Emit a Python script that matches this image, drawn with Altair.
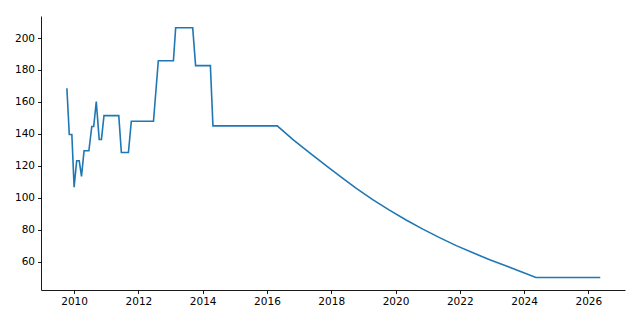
import altair as alt
import pandas as pd

years = [2009.775, 2009.85, 2009.93, 2010.0, 2010.08, 2010.16, 2010.23, 2010.31,
         2010.46, 2010.55, 2010.61, 2010.69, 2010.78, 2010.85, 2010.93,
         2011.39, 2011.47, 2011.69, 2011.78, 2012.47, 2012.62, 2013.09, 2013.16,
         2013.69, 2013.78, 2014.24, 2014.32, 2016.32,
         2016.83, 2017.36, 2017.83, 2018.30, 2018.77, 2019.29, 2019.81, 2020.33,
         2020.85, 2021.37, 2021.89, 2022.41, 2022.93, 2023.45, 2023.91, 2024.37,
         2026.37]
values = [168.5, 139.6, 139.6, 106.6, 123.1, 123.1, 113.4, 129.4,
          129.4, 144.6, 144.6, 160.2, 136.5, 136.5, 151.4,
          151.4, 128.3, 128.3, 147.9, 147.9, 185.8, 185.8, 206.4,
          206.4, 182.7, 182.7, 145.0, 145.0,
          136.0, 127.6, 120.2, 113.0, 106.0, 98.8, 92.2, 86.0,
          80.3, 75.0, 70.0, 65.5, 61.2, 57.2, 53.6, 50.0,
          50.0]

x_ticks = [2010, 2012, 2014, 2016, 2018, 2020, 2022, 2024, 2026]
y_ticks = [60, 80, 100, 120, 140, 160, 180, 200]

df = pd.DataFrame({"year": years, "value": values, "order": list(range(len(years)))})

chart = alt.Chart(df).mark_line(color="#1f77b4", strokeWidth=1.6).encode(
    x=alt.X("year:Q",
            scale=alt.Scale(domain=[2008.97, 2027.14], nice=False, zero=False),
            axis=alt.Axis(values=x_ticks, format="d", title=None, grid=False,
                          domainColor="black", tickColor="black", tickSize=3.5,
                          labelPadding=3, labelColor="black")),
    y=alt.Y("value:Q",
            scale=alt.Scale(domain=[42.2, 213.8], nice=False, zero=False),
            axis=alt.Axis(values=y_ticks, title=None, grid=False,
                          domainColor="black", tickColor="black", tickSize=3.5,
                          labelPadding=3, labelColor="black")),
    order="order:Q",
).properties(
    width=584, height=274,
    autosize=alt.AutoSizeParams(type="none"),
    padding={"left": 41, "top": 16, "right": 15, "bottom": 30},
).configure_view(stroke=None).configure_axis(
    labelFont="DejaVu Sans", labelFontSize=10.5, domainWidth=0.9, tickWidth=0.9
)

chart.save("out.html", embed_options={"renderer": "svg", "actions": False})
